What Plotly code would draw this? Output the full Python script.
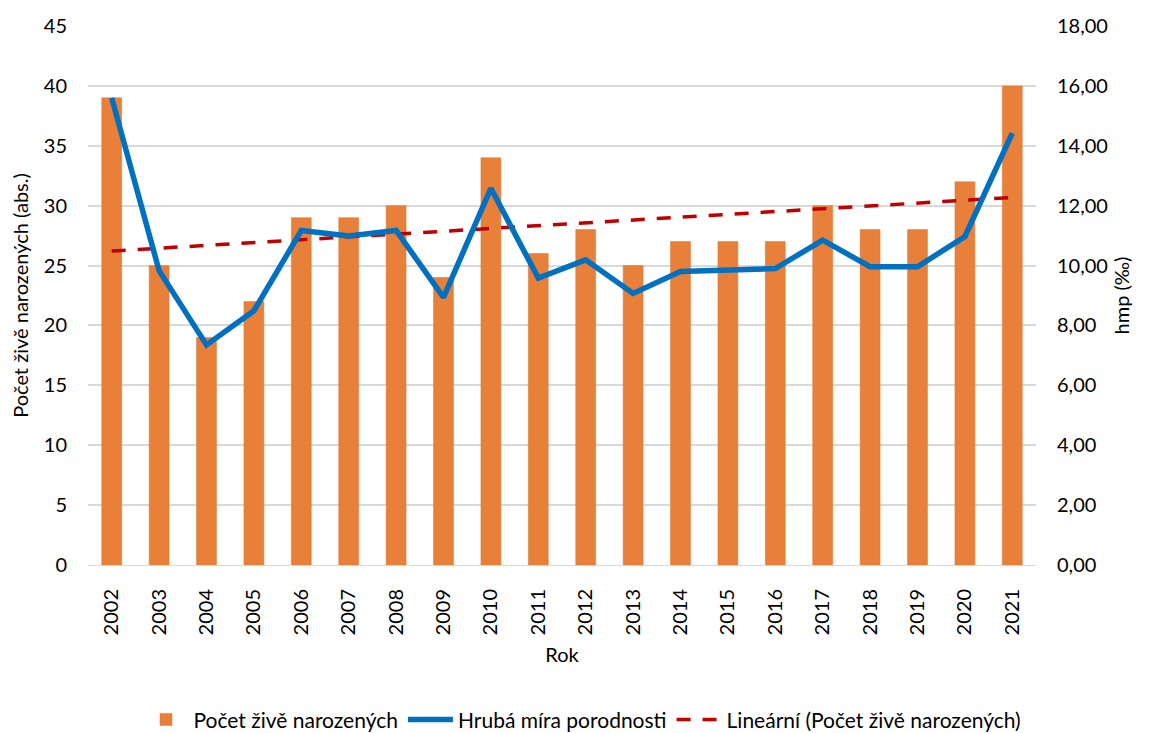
import plotly.graph_objects as go
import numpy as np

# Data
roky = [str(r) for r in range(2002, 2022)]
pocet_narozenych = [39, 25, 19, 22, 29, 29, 30, 24, 34, 26, 28, 25, 27, 27, 27, 30, 28, 28, 32, 40]
hmp = [15.60, 9.83, 7.35, 8.49, 11.17, 10.99, 11.17, 8.94, 12.58, 9.58,
       10.19, 9.07, 9.80, 9.87, 9.90, 10.85, 9.96, 9.96, 10.97, 14.42]

# Linear trend of the bar series (as Excel does it)
idx = np.arange(1, len(pocet_narozenych) + 1)
slope, intercept = np.polyfit(idx, pocet_narozenych, 1)
trend = slope * idx + intercept

FONT = "Lato"
TXT = "#000000"
FS = 20

fig = go.Figure()

fig.add_trace(go.Bar(
    x=roky,
    y=pocet_narozenych,
    name="Počet živě narozených",
    marker=dict(color="#E9803A", line=dict(color="#D9742F", width=0.5)),
    width=0.42,
    yaxis="y"
))

fig.add_trace(go.Scatter(
    x=roky,
    y=hmp,
    name="Hrubá míra porodnosti",
    mode="lines",
    line=dict(color="#0070C0", width=5.5),
    yaxis="y2"
))

fig.add_trace(go.Scatter(
    x=roky,
    y=trend,
    name="Lineární (Počet živě narozených)",
    mode="lines",
    line=dict(color="#C00000", width=3.5, dash="14px,12px"),
    yaxis="y"
))

# the page body adds an 8 px offset, margins below compensate for it
fig.update_layout(
    width=1149,
    height=733,
    margin=dict(l=80, r=121, t=18, b=176, autoexpand=False),
    paper_bgcolor="white",
    plot_bgcolor="white",
    separators=", ",
    font=dict(family=FONT, size=FS, color=TXT),
    xaxis=dict(
        title=dict(text="Rok", font=dict(size=FS), standoff=13),
        tickangle=-90,
        showgrid=False,
        showline=True,
        linecolor="#D9D9D9",
        ticks="",
        ticklabelstandoff=15,
        tickfont=dict(size=FS),
        automargin=False,
    ),
    yaxis=dict(
        title=dict(text="Počet živě narozených (abs.)", font=dict(size=FS), standoff=15),
        range=[0, 45],
        dtick=5,
        showgrid=True,
        gridcolor="#D9D9D9",
        gridwidth=1.5,
        zeroline=False,
        ticks="",
        ticklabelstandoff=20,
        tickfont=dict(size=FS),
        automargin=False,
    ),
    yaxis2=dict(
        title=dict(text="hmp (‰)", font=dict(size=FS), standoff=8),
        range=[0, 18],
        dtick=2,
        tickformat=".2f",
        overlaying="y",
        side="right",
        showgrid=False,
        zeroline=False,
        ticks="",
        ticklabelstandoff=20,
        tickfont=dict(size=FS),
        automargin=False,
    ),
    legend=dict(
        orientation="h",
        x=0.5,
        xref="container",
        xanchor="center",
        y=0.029,
        yref="container",
        yanchor="middle",
        font=dict(size=21),
        traceorder="normal",
        itemwidth=45,
    ),
)

fig.write_html("out.html")
